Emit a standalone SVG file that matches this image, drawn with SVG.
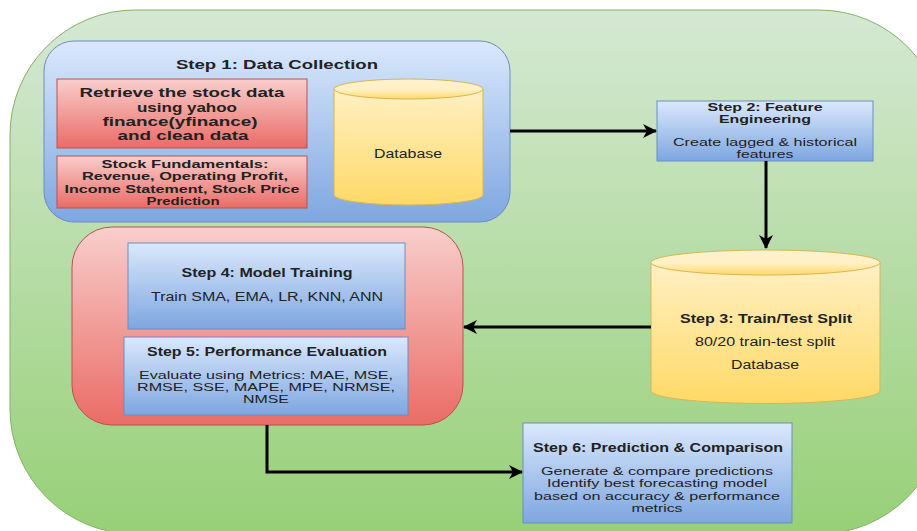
<svg xmlns="http://www.w3.org/2000/svg" width="917" height="531" viewBox="0 0 917 531">
<defs>
<linearGradient id="gGreen" x1="0" y1="0" x2="0" y2="1"><stop offset="0" stop-color="#d5e8d4"/><stop offset="1" stop-color="#97d077"/></linearGradient>
<linearGradient id="gBlue" x1="0" y1="0" x2="0" y2="1"><stop offset="0" stop-color="#dae8fc"/><stop offset="1" stop-color="#7ea6e0"/></linearGradient>
<linearGradient id="gRed" x1="0" y1="0" x2="0" y2="1"><stop offset="0" stop-color="#f8cecc"/><stop offset="1" stop-color="#ea6b66"/></linearGradient>
<linearGradient id="gYellow" x1="0" y1="0" x2="0" y2="1"><stop offset="0" stop-color="#fff2cc"/><stop offset="1" stop-color="#ffd966"/></linearGradient>
<marker id="arr" markerUnits="userSpaceOnUse" markerWidth="16" markerHeight="14" refX="13" refY="7" orient="auto">
<path d="M0,0 L14,7 L0,14 L4,7 Z" fill="#000"/>
</marker>
<style>
text{font-family:"Liberation Sans",Arial,sans-serif;fill:#222;text-anchor:middle;}
.b{font-weight:bold;font-size:12.5px;}
.n{font-size:12px;}
.bs{font-weight:bold;font-size:10.5px;}
.ns{font-size:10.5px;}
.rb{font-weight:bold;font-size:12.5px;}
.blue{fill:url(#gBlue);stroke:#6c8ebf;stroke-width:1;}
.red{fill:url(#gRed);stroke:#b85450;stroke-width:1;}
.yel{fill:url(#gYellow);stroke:#d6b656;stroke-width:1;}
.conn{fill:none;stroke:#000;stroke-width:3;marker-end:url(#arr);}
</style>
</defs>

<g id="container">
<rect x="10" y="10" width="934" height="524" rx="125" ry="125" fill="url(#gGreen)" stroke="#82b366" stroke-width="1"/>
</g>

<g id="step1">
<rect x="44" y="41" width="466" height="181" rx="30" ry="30" class="blue"/>
<text class="b" x="277" y="69" textLength="202" lengthAdjust="spacingAndGlyphs">Step 1: Data Collection</text>
</g>

<g id="retrieve">
<rect x="57" y="79" width="250" height="69" class="red"/>
<text class="rb" x="182" y="97" textLength="205" lengthAdjust="spacingAndGlyphs">Retrieve the stock data</text>
<text class="rb" x="187" y="111.5" textLength="100" lengthAdjust="spacingAndGlyphs">using yahoo</text>
<text class="rb" x="180" y="125.5" textLength="155" lengthAdjust="spacingAndGlyphs">finance(yfinance)</text>
<text class="rb" x="183" y="140" textLength="131" lengthAdjust="spacingAndGlyphs">and clean data</text>
</g>

<g id="fundamentals">
<rect x="57" y="156" width="250" height="52" class="red"/>
<text class="bs" x="185" y="168" textLength="167" lengthAdjust="spacingAndGlyphs">Stock Fundamentals:</text>
<text class="bs" x="185" y="180" textLength="206" lengthAdjust="spacingAndGlyphs">Revenue, Operating Profit,</text>
<text class="bs" x="182" y="192.5" textLength="235" lengthAdjust="spacingAndGlyphs">Income Statement, Stock Price</text>
<text class="bs" x="183" y="204.5" textLength="73" lengthAdjust="spacingAndGlyphs">Prediction</text>
</g>

<g id="database1">
<path d="M334,89 A74.5,10 0 0 1 483,89 L483,195 A74.5,10 0 0 1 334,195 Z" class="yel"/>
<path d="M334,89 A74.5,10 0 0 0 483,89" class="yel" fill="none"/>
<text class="n" x="408" y="158" textLength="68" lengthAdjust="spacingAndGlyphs">Database</text>
</g>

<g id="step2">
<rect x="657" y="101" width="216" height="60" class="blue"/>
<text class="bs" x="765" y="111" textLength="115" lengthAdjust="spacingAndGlyphs">Step 2: Feature</text>
<text class="bs" x="765" y="123" textLength="92" lengthAdjust="spacingAndGlyphs">Engineering</text>
<text class="ns" x="765" y="146" textLength="184" lengthAdjust="spacingAndGlyphs">Create lagged &amp; historical</text>
<text class="ns" x="765" y="158" textLength="57" lengthAdjust="spacingAndGlyphs">features</text>
</g>

<g id="step3">
<path d="M651,262.5 A114.5,12.5 0 0 1 880,262.5 L880,391 A114.5,12.5 0 0 1 651,391 Z" class="yel"/>
<path d="M651,262.5 A114.5,12.5 0 0 0 880,262.5" class="yel" fill="none"/>
<text class="b" x="766" y="323" textLength="172" lengthAdjust="spacingAndGlyphs">Step 3: Train/Test Split</text>
<text class="n" x="765" y="346" textLength="140" lengthAdjust="spacingAndGlyphs">80/20 train-test split</text>
<text class="n" x="765" y="369" textLength="68" lengthAdjust="spacingAndGlyphs">Database</text>
</g>

<g id="model-group">
<rect x="72" y="227" width="391" height="198" rx="40" ry="40" class="red"/>
</g>

<g id="step4">
<rect x="128" y="243" width="277" height="86" class="blue"/>
<text class="b" x="267" y="277" textLength="171" lengthAdjust="spacingAndGlyphs">Step 4: Model Training</text>
<text class="n" x="267" y="301" textLength="232" lengthAdjust="spacingAndGlyphs">Train SMA, EMA, LR, KNN, ANN</text>
</g>

<g id="step5">
<rect x="124" y="337" width="284" height="78" class="blue"/>
<text class="b" x="267" y="356" textLength="240" lengthAdjust="spacingAndGlyphs">Step 5: Performance Evaluation</text>
<text class="ns" x="266" y="379" textLength="254" lengthAdjust="spacingAndGlyphs">Evaluate using Metrics: MAE, MSE,</text>
<text class="ns" x="266" y="391" textLength="258" lengthAdjust="spacingAndGlyphs">RMSE, SSE, MAPE, MPE, NRMSE,</text>
<text class="ns" x="266" y="403" textLength="46" lengthAdjust="spacingAndGlyphs">NMSE</text>
</g>

<g id="step6">
<rect x="523" y="423" width="269" height="100" class="blue"/>
<text class="b" x="658" y="452" textLength="250" lengthAdjust="spacingAndGlyphs">Step 6: Prediction &amp; Comparison</text>
<text class="ns" x="657" y="475" textLength="232" lengthAdjust="spacingAndGlyphs">Generate &amp; compare predictions</text>
<text class="ns" x="657" y="487" textLength="220" lengthAdjust="spacingAndGlyphs">Identify best forecasting model</text>
<text class="ns" x="657" y="499.5" textLength="246" lengthAdjust="spacingAndGlyphs">based on accuracy &amp; performance</text>
<text class="ns" x="657" y="511.5" textLength="51" lengthAdjust="spacingAndGlyphs">metrics</text>
</g>

<g id="connectors">
<path d="M510,131 L656,131" class="conn"/>
<path d="M766,161 L766,248" class="conn"/>
<path d="M651,327 L464,327" class="conn"/>
<path d="M267,425 L267,472 L522,472" class="conn"/>
</g>
</svg>
